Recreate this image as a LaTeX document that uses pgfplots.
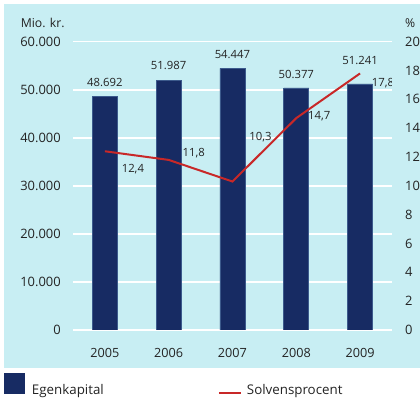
\documentclass[border=0pt]{standalone}
\usepackage{fontspec}
\setmainfont{Open Sans}
\usepackage{pgfplots}
\pgfplotsset{compat=1.18}
\definecolor{panel}{RGB}{200,238,243}
\definecolor{navy}{RGB}{23,43,99}
\definecolor{navyedge}{RGB}{60,90,140}
\definecolor{solred}{RGB}{200,40,40}
\definecolor{txt}{RGB}{35,35,35}
\pgfplotsset{
  common/.style={
    at={(0,0)}, anchor=south west, scale only axis,
    width=239.25pt, height=216.2pt,
    xmin=-0.5, xmax=4.5, ymin=0,
    axis line style={draw=none}, major tick length=0pt,
    tick label style={font=\fontsize{9.7}{11}\selectfont, text=txt},
    /pgf/number format/assume math mode=true,
  },
}
\begin{document}
\begin{tikzpicture}[font=\fontsize{8.5}{10}\selectfont, text=txt]
\begin{scope}[x=0.75pt,y=0.75pt]
  \useasboundingbox (-73,-71) rectangle (347,330);
  \fill[panel] (-69,-37.7) rectangle (347,326);
  % legend
  \fill[navy] (-69,-42.7) rectangle (-48,-64.3);
  \node[anchor=base west, inner sep=0pt, font=\fontsize{10}{12}\selectfont] at (-41.3,-64.5) {Egenkapital};
  \draw[solred, line width=1.5pt] (146,-62.7) -- (167.7,-62.7);
  \node[anchor=base west, inner sep=0pt, font=\fontsize{10}{12}\selectfont] at (173.7,-64.5) {Solvensprocent};
  % axis titles
  \node[anchor=base west, inner sep=0pt, font=\fontsize{9.2}{11}\selectfont] at (-52.5,302.5) {Mio. kr.};
  \node[anchor=base west, inner sep=0pt, font=\fontsize{9.2}{11}\selectfont] at (332,302.5) {\%};
\end{scope}

% egenkapital, mio. kr.
\begin{axis}[common,
  ybar, bar width=18.75pt,
  ymax=60000, ytick={0,10000,...,60000}, scaled y ticks=false,
  xtick={0,1,2,3,4}, xticklabels={2005,2006,2007,2008,2009},
  xticklabel style={font=\fontsize{9.5}{11}\selectfont, inner sep=0pt, anchor=north, yshift=-13.5pt},
  ymajorgrids, grid style={white, line width=1.1pt},
  yticklabel style={inner sep=0pt, xshift=-9pt,
    /pgf/number format/fixed, /pgf/number format/1000 sep={.}},
  nodes near coords,
  visualization depends on={value \thisrow{dy} \as \labdy},
  nodes near coords style={inner sep=0pt, anchor=south, yshift={7pt+\labdy*1pt}, text=txt,
    /pgf/number format/fixed, /pgf/number format/precision=0,
    /pgf/number format/1000 sep={.}},
]
  \addplot[fill=navy, draw=navyedge, line width=0.4pt] table[x=x, y=y] {
    x  y      dy
    0  48692  0
    1  51987  0.5
    2  54447  0
    3  50377  0
    4  51241  7
  };
\end{axis}

% solvensprocent
\begin{axis}[common,
  ymax=20, ytick={0,2,...,20},
  axis y line*=right, axis x line=none,
  yticklabel style={inner sep=0pt, anchor=west, xshift=9.75pt},
]
  \addplot[solred, line width=1.5pt, mark=none]
    coordinates {(0,12.4)(1,11.8)(2,10.3)(3,14.7)(4,17.8)};
  \node[xshift=21pt, yshift=-13.2pt] at (axis cs:0,12.4) {12,4};
  \node[xshift=18.75pt, yshift=4.95pt] at (axis cs:1,11.8) {11,8};
  \node[xshift=21pt, yshift=33pt] at (axis cs:2,10.3) {10,3};
  \node[xshift=17.25pt, yshift=1.3pt] at (axis cs:3,14.7) {14,7};
  \node[xshift=17.25pt, yshift=-7.5pt] at (axis cs:4,17.8) {17,8};
\end{axis}
\end{tikzpicture}
\end{document}
